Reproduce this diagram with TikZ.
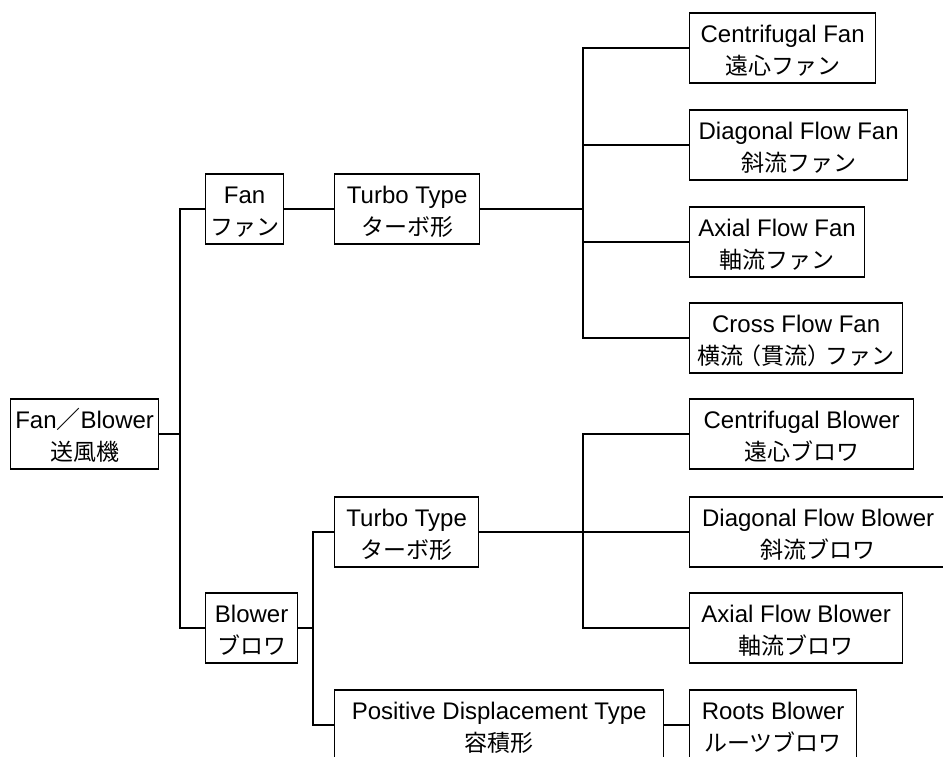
\documentclass[tikz,border=0pt]{standalone}
\usepackage{fontspec}
\setmainfont{Liberation Sans}
\newfontfamily\jp{Noto Sans CJK JP}
\newcommand{\twoline}[2]{\rule{0pt}{24pt}#1\\{\jp\fontsize{23}{32}\selectfont #2}\rule[-3.8pt]{0pt}{0pt}}
\begin{document}
\begin{tikzpicture}[x=1pt,y=-1pt,
  box/.style={draw,line width=1.3pt,align=center,anchor=west,minimum height=70pt,
    inner sep=0pt,font=\fontsize{24}{32}\selectfont},
  conn/.style={line width=1.3pt},
  thick conn/.style={line width=1.8pt}]
\useasboundingbox (0,0) rectangle (943,756);
% nodes
\node[box,minimum width=148pt] (root) at (10,434) {\twoline{Fan{\jp ／}Blower}{送風機}};
\node[box,minimum width=78pt] (fan) at (205,209) {\twoline{Fan}{ファン}};
\node[box,minimum width=145pt] (fturbo) at (334,209) {\twoline{Turbo Type}{ターボ形}};
\node[box,minimum width=186pt] (cf1) at (689,48) {\twoline{Centrifugal Fan}{遠心ファン}};
\node[box,minimum width=218pt] (cf2) at (689,145) {\twoline{Diagonal Flow Fan}{斜流ファン}};
\node[box,minimum width=175pt] (cf3) at (689,242) {\twoline{Axial Flow Fan}{軸流ファン}};
\node[box,minimum width=213pt] (cf4) at (689,338) {\twoline{Cross Flow Fan}{横流\kern-5pt（貫流）\kern-5pt ファン}};
\node[box,minimum width=92pt] (blower) at (205,628) {\twoline{Blower}{ブロワ}};
\node[box,minimum width=144pt] (bturbo) at (334,532) {\twoline{Turbo Type}{ターボ形}};
\node[box,minimum width=329pt] (pd) at (334,725) {\twoline{Positive Displacement Type}{容積形}};
\node[box,minimum width=224pt] (cb1) at (689,434) {\twoline{Centrifugal Blower}{遠心ブロワ}};
\node[box,minimum width=257pt] (cb2) at (689,532) {\twoline{Diagonal Flow Blower}{斜流ブロワ}};
\node[box,minimum width=213pt] (cb3) at (689,628) {\twoline{Axial Flow Blower}{軸流ブロワ}};
\node[box,minimum width=167pt] (roots) at (689,725) {\twoline{Roots Blower}{ルーツブロワ}};
% junctions
\coordinate (j1) at (180,434);
\coordinate (j2) at (583,209);
\coordinate (j3) at (313,628);
\coordinate (j4) at (583,532);
% connectors
\draw[thick conn] (root.east) -- (j1);
\draw[conn] (j1) |- (fan.west);
\draw[conn] (j1) |- (blower.west);
\draw[conn] (fan.east) -- (fturbo.west);
\draw[thick conn] (fturbo.east) -- (j2);
\draw[conn] (j2) |- (cf1.west);
\draw[conn] (j2) |- (cf2.west);
\draw[conn] (j2) |- (cf3.west);
\draw[conn] (j2) |- (cf4.west);
\draw[thick conn] (blower.east) -- (j3);
\draw[conn] (j3) |- (bturbo.west);
\draw[conn] (j3) |- (pd.west);
\draw[thick conn] (bturbo.east) -- (j4);
\draw[conn] (j4) |- (cb1.west);
\draw[conn] (j4) |- (cb2.west);
\draw[conn] (j4) |- (cb3.west);
\draw[conn] (pd.east) -- (roots.west);
\end{tikzpicture}
\end{document}
